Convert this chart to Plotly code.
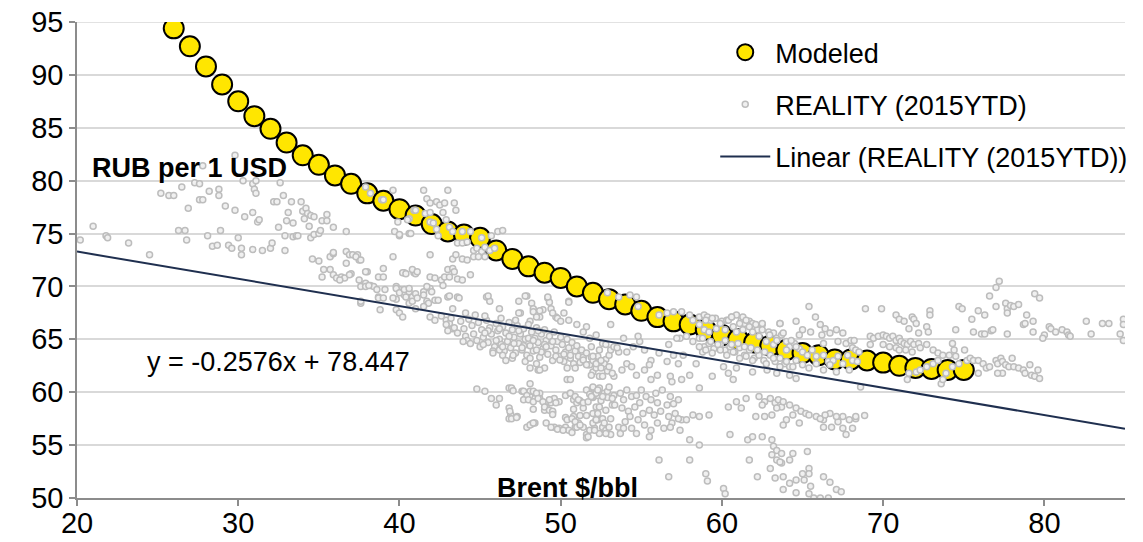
import plotly.graph_objects as go

# ---------------- data ----------------
modeled_x = list(range(26, 76))
modeled_y = [94.4, 92.7, 90.8, 89.1, 87.5, 86.1, 84.9, 83.6, 82.4, 81.5,
             80.5, 79.7, 78.8, 78.1, 77.3, 76.7, 75.9, 75.2, 74.9, 74.6,
             73.4, 72.6, 71.9, 71.3, 70.8, 70.0, 69.4, 68.8, 68.3, 67.7,
             67.1, 66.7, 66.4, 65.9, 65.4, 65.0, 64.7, 64.4, 64.0, 63.7,
             63.5, 63.1, 63.1, 63.0, 62.8, 62.5, 62.3, 62.2, 62.1, 62.1]

reality_west = [(20.2,74.4),(21.0,75.7),(21.8,74.8),(21.9,74.6),(23.2,74.1),(24.5,73.0),(25.2,78.8),(25.7,78.6),
    (26.0,78.6),(26.3,75.3),(26.7,75.3),(26.8,74.4),(26.5,79.4),(26.9,77.4),(27.3,79.8),(27.6,79.7),(27.6,78.2),
    (27.8,78.2),(27.8,81.4),(28.1,74.8),(28.2,79.0),(28.4,73.8),(28.7,73.9),(28.8,79.2),(28.8,78.6),(28.9,75.3),
    (29.2,77.6),(29.4,73.9),(29.6,73.6),(29.8,77.2),(29.8,82.4),(30.0,74.6),(30.2,73.6),(30.2,73.0),(30.3,80.0),
    (30.4,76.6),(30.9,73.5),(30.9,77.0),(30.9,79.7),(31.0,79.2),(31.1,78.8),(31.1,80.0),(31.2,76.1),(31.3,76.3),
    (31.5,73.4),(32.0,73.6),(32.1,74.1),(32.5,75.6),(32.6,79.8),(32.8,78.6),(32.9,73.4),(32.9,74.8),(32.2,78.0),
    (32.4,78.0),(33.1,77.0),(33.0,76.2),(33.4,76.0),(33.3,78.0),(33.4,74.7),(33.6,74.8),(33.7,74.8),(33.9,78.0),
    (34.0,77.1),(34.2,77.4),(34.3,76.9),(34.5,76.7),(34.7,76.6),(34.1,76.4),(34.4,75.7),(34.5,74.6),(34.7,74.9),
    (35.0,75.0),(35.1,75.3),(34.6,72.6),(35.0,72.4),(35.2,76.2),(35.5,76.2),(35.5,76.8),(35.7,72.8),(35.9,73.1),
    (35.9,75.6),(35.3,71.6),(35.7,71.6),(35.2,70.9),(35.9,71.1),(36.1,70.8)]

reality_center_west = [(36.7,75.2),(36.7,73.3),(36.9,73.0),(37.1,73.0),(37.4,73.0),(37.5,72.5),(36.7,72.2),(37.0,71.2),
    (37.5,70.6),(37.6,70.0),(37.9,70.3),(38.2,70.1),(38.4,70.0),(37.6,68.4),(38.0,71.4),(38.7,70.9),(39.0,71.7),
    (39.0,70.9),(38.7,69.0),(39.1,69.7),(39.6,72.8),(39.8,70.0),(40.0,69.7),(40.2,69.5),(40.3,69.2),(40.4,69.0),
    (40.6,69.5),(40.8,69.0),(41.0,69.3),(40.3,71.3),(40.9,71.3),(40.6,68.4),(40.8,68.6),(39.8,68.8),(39.6,79.1),
    (39.9,76.1),(40.6,76.4),(40.0,74.8),(40.6,75.0),(38.2,78.8),(38.9,78.2),(40.9,77.2),(37.9,79.4),(39.0,78.2),
    (41.5,79.1),(41.7,78.3),(41.9,77.9),(42.3,78.0),(42.5,77.7),(42.8,77.9),(43.0,79.1),(43.4,77.9),(43.5,77.2),
    (41.6,76.9),(41.9,77.0),(41.9,76.1),(42.1,76.0),(42.3,75.4),(42.4,74.8),(42.7,77.0),(42.9,76.3),(41.0,77.2),
    (40.5,76.3),(40.7,75.0),(39.7,75.2),(40.0,74.9),(43.1,75.6),(43.3,75.2),(43.9,75.2),(44.4,75.2),(43.6,74.1),
    (43.9,74.1),(44.2,74.2),(45.1,74.6),(44.6,73.4),(44.8,73.6),(45.1,73.3),(45.3,73.7),(45.6,73.4),(45.9,73.6),
    (45.7,74.8),(46.1,75.2),(46.4,75.3),(44.6,72.8),(44.9,72.8),(45.3,72.8),(43.3,72.6),(43.5,73.0),(43.9,72.6),
    (44.2,72.5),(35.9,73.2),(37.3,72.8),(37.6,72.5),(36.4,70.9),(36.6,70.8),(36.3,70.6),(36.9,71.1),(37.9,71.4),
    (40.2,71.3),(41.0,71.2),(37.9,70.0),(38.1,70.1),(38.6,69.7),(38.7,68.9),(39.0,68.9),(37.6,68.6),(38.8,67.8),
    (39.6,68.9),(39.8,69.8),(40.0,69.4),(40.3,69.7),(40.6,69.8),(41.1,68.9),(41.5,69.5),(41.9,69.8),(41.7,68.6),
    (39.8,67.8),(40.0,67.5),(40.2,67.1),(41.0,67.9),(41.8,68.4),(42.2,68.7),(42.4,68.7),(40.8,71.6),(41.1,71.4),
    (40.4,71.2),(41.9,70.9),(42.2,70.8),(42.6,70.6),(42.8,70.9),(43.0,71.6),(43.3,71.7),(43.4,71.4),(43.1,70.9),
    (43.6,70.7),(43.9,70.6),(44.4,71.1),(42.7,70.1),(41.9,73.0),(43.0,69.0),(43.6,69.0),(45.4,69.0),(45.6,68.6),
    (46.2,67.9),(47.9,69.1),(47.4,68.6),(47.5,67.5),(48.2,68.4),(48.3,67.9),(48.7,67.1),(48.9,67.8),(49.2,68.9),
    (49.3,68.5),(49.7,67.1),(50.2,67.5),(50.5,68.6),(51.0,66.4),(51.6,66.2),(48.1,66.7),
    (41.5,69.2),(41.5,68.1),(41.7,70.0),(42.0,69.5),(43.1,69.1),(43.3,67.9),(43.7,68.9),(44.1,67.5),(45.5,69.1),
    (47.4,67.5),(47.8,69.1),(48.3,67.6),(48.5,67.1),(48.7,67.7),(49.2,69.0),(49.4,67.9),(49.5,67.5),(49.8,67.0),
    (50.0,66.7),(50.5,66.8),(50.5,68.5),(51.4,65.7),(41.9,67.1),(42.2,66.8),(42.9,66.8),(43.1,66.5),(43.3,66.0)]

reality_dense_band = [(42.6,67.2),(42.9,66.4),(43.2,67.0),(43.4,66.1),(43.6,65.6),(43.8,66.7),(44.0,66.0),(44.1,65.3),
    (44.3,66.9),(44.5,66.3),(44.6,65.5),(44.8,64.9),(44.9,66.6),(45.1,65.9),(45.2,65.2),(45.4,66.8),(45.5,64.7),
    (45.6,66.1),(45.7,65.5),(45.9,64.3),(46.0,66.5),(46.1,65.8),(46.2,65.0),(46.3,64.5),(46.4,66.2),(46.5,63.9),
    (46.6,65.6),(46.7,64.8),(46.8,66.6),(46.9,64.2),(47.0,65.9),(47.1,65.2),(47.2,63.7),(47.3,66.3),(47.4,64.6),
    (47.5,65.5),(47.6,64.0),(47.7,66.0),(47.8,65.0),(47.9,63.5),(48.0,66.4),(48.1,64.4),(48.2,65.7),(48.3,63.9),
    (48.4,65.1),(48.5,66.1),(48.6,64.7),(48.7,63.3),(48.8,65.5),(48.9,64.1),(49.0,65.9),(49.1,64.9),(49.2,63.6),
    (49.3,65.3),(49.4,64.4),(49.5,63.0),(49.6,65.7),(49.7,64.0),(49.8,64.8),(49.9,63.4),(50.0,65.2),(50.1,64.5),
    (50.2,62.9),(50.3,63.8),(50.4,65.0),(50.5,64.2),(50.6,63.2),(50.7,64.7),(50.8,62.7),(50.9,63.9),(51.0,64.4),
    (51.1,63.4),(51.2,62.8),(51.3,64.0),(51.4,63.3),(51.6,63.7),(51.7,62.6),(51.9,63.3),(52.1,62.8),(52.3,63.4),
    (52.5,62.5),(52.8,63.1),(43.0,65.8),(44.2,64.9),(45.0,64.3),(45.8,63.9),(46.4,63.5),(47.0,63.2),(47.8,62.9),
    (48.5,62.7),(45.3,67.2),(46.3,67.0),(47.2,66.8),(44.7,67.3),(46.6,63.0),(45.5,65.8),(46.2,66.0),(46.8,65.3),
    (47.4,65.8),(48.0,65.1),(48.6,65.8),(47.7,64.4),(48.3,64.9),(49.0,64.5),(46.0,64.9),(45.3,65.6),(47.1,64.6),
    (48.8,63.8),(49.5,64.8),(50.2,63.6),(43.95,64.8),(44.4,64.6),(45.2,64.5),(45.8,63.7),(46.2,64.0),(46.4,64.3),
    (47.05,63.5),(47.6,64.2),(48.1,63.2),(48.5,64.0),(49.1,64.3),(49.7,63.4),(49.95,63.05),(50.6,63.5),(51.4,63.05),
    (51.8,62.6),(52.0,61.9),(52.2,62.3),(48.1,62.3),(48.6,62.1),(49.0,62.3),(50.4,62.3),(50.9,62.3),(51.6,62.6),
    (52.0,63.0),(51.9,64.3),(52.4,64.0),(52.6,64.6),(53.0,63.5),(53.1,64.0),(53.3,64.3),(53.6,63.8),(52.7,62.7),
    (52.5,62.3),(51.9,61.6),(52.4,61.5),(52.9,62.0),(53.3,61.5),(48.7,62.1),(50.4,61.2),(50.6,61.2)]

reality_mid_band = [(44.8,60.3),(45.3,60.1),(45.7,59.4),(46.2,59.4),(46.0,58.8),(46.8,60.4),(47.0,60.2),(46.8,58.5),
    (46.9,57.9),(47.3,57.7),(46.8,57.5),(47.6,60.1),(47.8,59.4),(48.1,60.8),(48.1,60.1),(48.4,59.9),(48.4,59.4),
    (48.7,59.9),(48.7,59.4),(49.1,59.0),(49.1,58.6),(49.0,58.3),(49.4,59.0),(49.5,58.1),(49.6,59.4),(49.9,59.1),
    (47.9,56.7),(48.2,57.0),(48.4,57.1),(49.1,57.1),(49.6,56.7),(49.9,56.6),(50.3,56.7),(50.5,56.4),(50.7,56.2),
    (50.9,56.7),(51.1,57.1),(51.4,56.7),(51.6,56.0),(51.8,56.4),(52.1,56.6),(52.4,56.1),(52.6,56.7),(52.8,56.4),
    (53.0,56.7),(53.1,56.0),(51.6,55.7),(50.3,59.7),(50.6,59.9),(50.8,59.3),(51.0,59.0),(51.2,59.2),(51.4,58.5),
    (51.6,60.2),(51.8,59.8),(52.0,59.5),(52.3,59.7),(52.4,60.4),(52.5,59.2),(52.7,59.9),(52.9,59.5),(53.2,58.8),
    (53.3,59.7),(50.8,58.4),(50.3,57.6),(50.8,57.7),(51.2,57.8),(51.6,57.8),(52.0,58.0),(52.3,57.4),(52.6,57.5),
    (46.95,60.4),(47.05,60.15),(46.85,58.2),(46.95,57.5),(47.26,57.6),(48.1,56.9),(48.3,57.1),(47.7,60.1),
    (47.9,59.7),(48.3,60.1),(48.5,59.9),(47.7,59.3),(48.0,59.3),(48.3,59.1),(48.6,59.4),(48.9,59.1),(49.3,59.3),
    (49.7,59.0),(49.0,58.6),(49.3,58.3),(49.5,58.2),(49.5,57.9),(48.3,58.4),(49.4,56.7),(49.8,56.5),(50.15,56.4),
    (50.4,57.4),(50.7,57.5),(50.9,57.2),(51.0,56.7),(51.2,56.9),(51.7,55.8),(52.0,57.1),(52.2,57.4),(50.6,59.9),
    (50.9,59.6),(51.1,59.3),(51.4,59.0),(51.7,59.1),(52.0,59.6),(52.2,59.9),(52.0,60.4),(52.2,58.6),(52.3,58.0)]

reality_east_lower = [(52.0,60.5),(52.3,60.2),(52.6,59.6),(52.9,60.1),(53.2,59.4),(53.7,59.9),(54.1,60.2),(54.4,59.6),
    (54.7,59.7),(55.0,60.2),(55.3,59.6),(55.6,59.3),(55.9,59.9),(56.3,60.2),(56.8,59.6),(57.0,58.9),(57.3,59.3),
    (52.4,58.6),(52.8,58.3),(53.35,58.8),(53.8,58.5),(54.2,58.2),(54.6,58.6),(55.1,58.0),(55.5,58.3),(55.8,57.85),
    (56.2,58.2),(56.7,57.7),(57.1,58.0),(57.5,57.4),(52.2,57.4),(52.7,57.1),(53.1,57.5),(53.6,56.7),(54.0,57.2),
    (54.4,56.6),(54.8,57.4),(55.2,56.9),(55.6,56.4),(56.0,57.1),(56.4,56.6),(56.9,57.1),(57.3,57.5),(57.8,57.4),
    (58.2,57.85),(58.6,57.7),(59.2,57.85),(52.1,56.4),(52.8,56.1),(53.7,56.1),(54.7,56.1),(55.5,55.8),(58.0,55.5),
    (58.6,55.0),(60.5,56.0),(51.9,59.6),(53.0,60.5),(53.9,59.3),(54.9,59.0),(56.0,59.0),(56.6,58.8),(54.3,57.7),
    (56.8,56.7),(57.4,56.4),(53.9,56.6),(60.4,58.6),(61.2,58.5),(61.5,59.4),(60.9,59.1),
    (62.3,59.6),(62.65,59.1),(63.0,59.4),(63.3,59.0),(63.5,59.3),(63.7,58.6),(63.4,58.5),(62.5,58.8),(63.8,59.1),
    (64.2,58.8),(64.6,58.5),(64.9,58.2),(65.2,58.0),(64.4,57.85),(64.0,57.4),(64.8,57.1),(65.4,57.85),(65.85,57.7),
    (66.3,57.4),(66.7,58.0),(67.2,57.2),(67.5,57.7),(67.9,57.4),(68.1,56.6),(68.3,57.5),(66.3,56.7),(66.8,56.7),
    (67.5,56.6),(67.7,56.0),(63.8,56.9),(62.1,57.7),(62.65,57.7),(63.1,57.85),(66.1,57.5),(66.4,57.85),(67.1,57.7),
    (68.3,57.7),(68.85,57.8),
    (61.6,55.5),(61.9,55.8),(62.5,55.8),(63.1,55.5),(63.2,54.9),(63.4,54.5),(63.7,54.2),(63.1,54.1),(63.4,53.6),
    (63.7,53.3),(64.2,53.6),(64.4,54.2),(63.0,52.8),(63.3,51.9),(63.8,52.0),(64.2,51.4),(64.6,51.7),(65.0,52.3),
    (65.4,52.8),(65.4,52.3),(66.3,52.0),(66.7,51.5),(67.1,50.8),(67.4,50.6),(63.8,50.8),(64.6,50.5),(65.5,51.1),
    (65.7,50.0),(66.1,50.0),(66.6,50.0),(65.4,50.4),(65.1,51.7),(62.2,52.0),(61.7,53.6),(58.0,53.6),(56.1,53.6),
    (59.0,52.3),(56.7,52.0),(60.1,50.9),(65.3,54.4),(63.6,53.4),(60.2,50.4),(59.1,51.6)]

reality_east_upper = [(52.9,69.4),(53.6,69.0),(54.3,69.2),(54.7,69.0),(54.8,68.1),(56.1,67.3),(56.6,67.5),(57.0,67.6),
    (57.5,67.6),(58.0,67.3),(58.2,66.8),(58.6,67.1),(58.9,67.3),(59.1,67.1),(59.3,66.8),(59.6,67.0),(60.0,66.7),
    (60.3,66.8),(60.6,67.1),(60.9,67.3),(61.2,66.8),(61.4,66.5),(61.7,66.7),(62.0,66.2),(62.2,65.9),(62.5,66.4),
    (62.9,65.7),(63.2,65.6),(63.4,65.1),(63.7,65.4),(64.0,64.8),(64.2,64.3),(64.5,64.6),(64.8,64.1),(65.0,63.8),
    (65.3,63.5),(65.6,64.0),(65.85,63.4),(66.3,63.5),(66.6,62.9),(66.9,63.0),(67.2,63.4),(67.5,62.7),(67.8,63.5),
    (68.1,63.0),(68.4,62.9),(65.4,68.1),(65.8,67.1),(63.6,66.5),(64.6,66.7),(62.5,66.5),(61.9,66.5),(61.3,67.1),
    (66.1,66.4),(66.4,66.0),(66.7,65.6),(67.1,65.9),(67.5,65.6),(66.2,65.4),(65.0,65.9),(65.5,65.7),(64.8,65.4),
    (67.2,64.8),(67.7,64.6),(66.3,64.6),(57.4,65.1),(57.8,65.3),(58.2,64.8),(58.6,65.1),(58.9,64.3),(59.2,64.6),
    (59.5,64.1),(59.9,64.5),(60.2,64.0),(60.5,64.3),(60.8,63.8),(61.1,64.2),(61.4,63.5),(61.7,64.0),(62.0,63.2),
    (62.3,63.7),(62.6,63.0),(63.0,63.5),(63.3,62.9),(63.6,63.2),(63.9,62.7),(64.2,62.4),(64.6,63.0),(65.0,62.6),
    (65.4,62.3),(65.85,62.7),(66.3,62.1),(66.7,62.6),(67.1,61.9),(62.8,62.1),(63.4,61.8),(64.2,61.6),(64.6,61.3),
    (61.9,61.9),(60.9,62.3),(60.1,62.4),(60.4,61.8),(60.7,61.2),(59.4,61.5),(58.6,60.4),
    (51.8,65.1),(52.2,65.4),(52.8,64.5),(53.1,66.4),(53.5,64.2),(53.9,65.1),(54.1,63.8),(54.5,64.3),(54.9,64.8),
    (55.2,64.0),(55.6,63.0),(56.1,63.7),(56.7,64.5),(57.0,63.5),(57.2,65.1),(57.6,63.5),(58.0,61.6),(58.4,62.7),
    (58.8,63.8),(52.0,63.4),(52.2,62.7),(52.5,63.0),(53.0,62.4),(52.6,61.5),(53.2,61.8),(53.8,62.1),(54.1,62.7),
    (54.4,62.4),(54.7,61.6),(55.2,62.1),(55.6,61.2),(56.0,61.6),(56.8,61.5),(56.9,61.0),(57.3,62.7),(57.5,61.2),
    (56.6,62.9),(55.5,62.6),(54.8,65.3),
    (58.6,66.4),(58.9,65.9),(59.2,65.7),(59.0,66.8),(59.4,67.0),(59.65,66.0),(59.9,66.5),(60.2,65.9),(60.4,66.8),
    (60.6,67.1),(60.7,66.2),(60.9,65.7),(61.1,66.5),(61.3,65.9),(61.5,66.8),(61.7,66.2),(61.9,65.7),(62.1,66.4),
    (62.3,65.3),(62.5,65.9),(62.75,64.8),(62.96,65.4),(63.2,64.5),(63.4,64.9),(63.6,66.5),(63.8,65.6),(64.0,64.0),
    (64.3,64.9),(64.6,64.3),(58.6,64.3),(59.0,64.0),(59.4,63.7),(59.9,64.0),(60.3,63.5),(60.7,63.8),(61.1,63.2),
    (61.5,63.4),(61.9,63.0),(62.3,63.5),(62.75,62.7),(63.2,63.2),(63.6,62.4),(64.0,62.9),(64.4,62.4),(58.8,65.1),
    (59.3,64.8),(59.75,64.5),(60.2,64.9),(60.6,64.5),(61.0,64.6),(61.4,64.3),(61.8,64.2),(62.2,64.0),(62.65,63.8)]

reality_far_east = [(77.2,70.5),(77.0,69.9),(76.6,69.1),(77.0,68.1),(77.6,68.4),(77.7,67.9),(77.9,68.2),(78.1,68.1),
    (78.4,68.3),(77.7,67.5),(78.9,67.3),(78.7,66.4),(78.8,66.5),(79.3,66.7),(79.4,69.3),(79.7,68.9),(79.3,65.7),
    (80.0,65.4),(79.9,65.1),(80.3,66.2),(80.4,66.0),(80.7,65.7),(81.1,65.9),(81.4,65.7),(81.5,65.4),(81.6,65.3),
    (82.6,66.7),(82.9,65.5),(83.6,66.5),(84.0,66.5),(84.7,65.5),(84.9,66.9),(84.9,66.4),(84.9,64.9),(75.9,67.7),
    (76.3,67.3),(74.7,68.1),(74.9,67.9),(75.5,66.9),(74.5,65.9),(75.6,65.7),(76.1,65.5),(76.3,65.5),(76.7,65.8),
    (76.8,65.9),(77.7,65.5),(68.9,67.9),(69.9,67.9),(70.8,67.3),(71.0,66.9),(71.3,66.7),(71.8,67.1),(71.9,66.9),
    (72.05,66.5),(72.2,65.6),(72.7,66.2),(72.8,65.7),(72.9,67.7),(72.9,67.3),(71.6,66.0),
    (68.0,64.9),(68.2,64.9),(68.1,64.2),(68.3,64.0),(68.5,63.8),(69.2,65.3),(69.4,65.1),(69.7,65.3),(70.0,65.4),
    (70.2,65.3),(70.4,65.1),(70.6,65.3),(70.8,64.9),(71.0,65.1),(71.1,64.8),(71.3,64.6),(71.5,64.5),(71.7,64.8),
    (71.9,64.5),(72.2,64.6),(69.2,64.5),(70.0,64.5),(70.4,64.3),(70.8,64.2),(71.0,64.0),(71.4,64.0),(71.8,63.8),
    (72.3,64.2),(72.7,64.5),(73.1,64.0),(73.4,63.7),(73.7,63.5),(74.1,63.5),(74.3,64.6),(74.4,64.0),(74.5,63.4),
    (75.05,64.0),(75.2,63.0),(74.7,62.7),(74.3,62.4),(73.9,61.8),(73.6,60.8),(73.7,61.2),(72.05,61.9),(71.6,61.8),
    (71.5,61.2),(72.3,62.1),(72.7,62.4),(73.1,62.7),(73.4,63.0),(75.4,63.2),(75.6,63.0),(75.9,63.0),(76.2,62.7),
    (76.4,62.3),(76.6,62.4),(77.0,63.0),(77.1,62.7),(77.3,63.2),(77.4,62.9),(77.6,62.6),(77.8,62.4),(78.0,63.2),
    (78.1,62.4),(78.4,62.3),(78.7,62.1),(78.8,61.8),(79.1,62.6),(79.2,61.6),(79.4,61.5),(79.6,62.1),(79.7,61.3),
    (77.4,61.8),(77.1,61.8),(75.9,61.8),(68.6,60.5),(67.9,62.1)]

trend_slope = -0.2576
trend_intercept = 78.447
trend_x = [20, 85]

x_ticks = [20, 30, 40, 50, 60, 70, 80]
y_ticks = [50, 55, 60, 65, 70, 75, 80, 85, 90, 95]

# ---------------- figure ----------------
reality_all = (reality_west + reality_center_west + reality_dense_band + reality_mid_band
               + reality_east_lower + reality_east_upper + reality_far_east)
rx = [p[0] for p in reality_all]
ry = [p[1] for p in reality_all]
trend_y = [trend_slope * v + trend_intercept for v in trend_x]

FONT = "Liberation Sans, Arial, sans-serif"
TEXT_SIZE = 27
TICK_SIZE = 29
GRID = "#D9D9D9"

fig = go.Figure()
fig.add_trace(go.Scatter(
    x=modeled_x, y=modeled_y, mode="markers", name="Modeled", legendgroup="a",
    marker=dict(size=20, color="#FFE600", line=dict(color="#000000", width=2)),
))
fig.add_trace(go.Scatter(
    x=rx, y=ry, mode="markers", name="REALITY (2015YTD)", legendgroup="b",
    marker=dict(size=6, color="#F0F0F0", line=dict(color="#BDBDBD", width=1.5)),
))
fig.add_trace(go.Scatter(
    x=trend_x, y=trend_y, mode="lines", name="Linear (REALITY (2015YTD))", legendgroup="c",
    line=dict(color="#1F2F4F", width=2),
))

fig.add_annotation(x=20.8, y=81.2, xref="x", yref="y", text="<b>RUB per 1 USD</b>",
                   showarrow=False, xanchor="left", yanchor="middle",
                   font=dict(family=FONT, size=TEXT_SIZE, color="#000000"))
fig.add_annotation(x=45.9, y=50.95, xref="x", yref="y", text="<b>Brent $/bbl</b>",
                   showarrow=False, xanchor="left", yanchor="middle",
                   font=dict(family=FONT, size=TEXT_SIZE, color="#000000"))
fig.add_annotation(x=24.2, y=62.9, xref="x", yref="y", text="y = -0.2576x + 78.447",
                   showarrow=False, xanchor="left", yanchor="middle",
                   font=dict(family=FONT, size=TEXT_SIZE, color="#000000"))

# top gridline at the upper end of the value axis
fig.add_shape(type="line", xref="paper", yref="y", x0=0, x1=1, y0=y_ticks[-1], y1=y_ticks[-1],
              line=dict(color=GRID, width=1.5), layer="below")

# the page body adds an 8px margin, so the figure is 8px smaller than the window
fig.update_layout(
    width=1135, height=534,
    margin=dict(l=69, r=18, t=14, b=44, pad=0, autoexpand=False),
    paper_bgcolor="white", plot_bgcolor="white",
    font=dict(family=FONT, size=TEXT_SIZE, color="#000000"),
    showlegend=True,
    legend=dict(x=0.609, y=0.987, xanchor="left", yanchor="top",
                bgcolor="rgba(0,0,0,0)", font=dict(family=FONT, size=TEXT_SIZE, color="#000000"),
                traceorder="grouped", tracegroupgap=14, itemwidth=50, itemsizing="trace"),
    xaxis=dict(range=[20, 85], tickvals=x_ticks, showgrid=False, zeroline=False, automargin=False,
               showline=True, linecolor="#8C8C8C", linewidth=1.5,
               ticks="outside", ticklen=6, tickcolor="#8C8C8C", tickwidth=1.5,
               ticklabelstandoff=-8, ticklabeloverflow="allow",
               tickfont=dict(family=FONT, size=TICK_SIZE, color="#000000")),
    yaxis=dict(range=[50, 95], tickvals=y_ticks, showgrid=True, gridcolor=GRID, gridwidth=1.5,
               zeroline=False, showline=True, linecolor="#8C8C8C", linewidth=1.5, automargin=False,
               ticks="outside", ticklen=6, tickcolor="#8C8C8C", tickwidth=1.5,
               ticklabelstandoff=0, ticklabeloverflow="allow",
               tickfont=dict(family=FONT, size=TICK_SIZE, color="#000000")),
)

fig.write_html("out.html")
